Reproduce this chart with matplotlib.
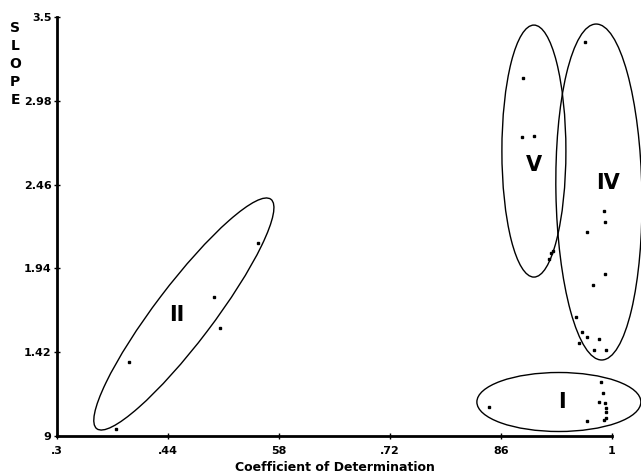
import matplotlib
matplotlib.use("Agg")
import matplotlib.pyplot as plt
from matplotlib.patches import Ellipse
from matplotlib.transforms import ScaledTranslation

# ---- data ----
x_ticks = [0.3, 0.44, 0.58, 0.72, 0.86, 1.0]
x_tick_labels = [".3", ".44", "58", ".72", "86", "1"]
y_ticks = [0.9, 1.42, 1.94, 2.46, 2.98, 3.5]
y_tick_labels = ["9", "1.42", "1.94", "2.46", "2.98", "3.5"]

cluster_II_x = [0.554, 0.498, 0.505, 0.391, 0.374]
cluster_II_y = [2.095, 1.764, 1.568, 1.361, 0.942]

cluster_V_x = [0.888, 0.887, 0.901, 0.923, 0.920, 0.926]
cluster_V_y = [3.119, 2.753, 2.761, 2.033, 1.998, 2.045]

cluster_IV_x = [0.966, 0.990, 0.991, 0.968, 0.991, 0.976, 0.954, 0.962,
                0.969, 0.983, 0.959, 0.977, 0.992]
cluster_IV_y = [3.346, 2.298, 2.229, 2.164, 1.905, 1.837, 1.636, 1.543,
                1.516, 1.500, 1.475, 1.434, 1.434]

cluster_I_x = [0.845, 0.986, 0.989, 0.983, 0.991, 0.992, 0.992, 0.968,
               0.990, 0.992]
cluster_I_y = [1.078, 1.233, 1.165, 1.113, 1.102, 1.072, 1.051, 0.995,
               0.999, 1.010]

cluster_names = ["II", "V", "IV", "I"]
label_x = [0.451, 0.901, 0.995, 0.937]
label_y = [1.650, 2.580, 2.467, 1.108]

# ellipse outlines: centre (data), width/height (inches), angle (deg)
ell_cx = [0.460, 0.9015, 0.9835, 0.933]
ell_cy = [1.657, 2.668, 2.414, 1.111]
ell_w = [2.88, 0.64, 0.86, 1.64]
ell_h = [0.58, 2.52, 3.36, 0.59]
ell_ang = [52.8, 0.0, 1.0, 0.0]

fam = ["Liberation Sans Narrow", "DejaVu Sans"]

fig = plt.figure(figsize=(6.41, 4.76), dpi=100)
ax = fig.add_axes([57 / 641, 40 / 476, 555 / 641, 419 / 476])

for xs, ys in [(cluster_II_x, cluster_II_y), (cluster_V_x, cluster_V_y),
               (cluster_IV_x, cluster_IV_y), (cluster_I_x, cluster_I_y)]:
    ax.plot(xs, ys, linestyle="none", marker="s", markersize=1.8,
            color="black", clip_on=False)

for cx, cy, w, h, a in zip(ell_cx, ell_cy, ell_w, ell_h, ell_ang):
    tr = fig.dpi_scale_trans + ScaledTranslation(cx, cy, ax.transData)
    e = Ellipse((0, 0), w, h, angle=a, transform=tr, fill=False,
                edgecolor="black", linewidth=1.0, clip_on=False)
    ax.add_patch(e)

for name, lx, ly in zip(cluster_names, label_x, label_y):
    ax.text(lx, ly, name, ha="center", va="center", fontsize=15,
            fontweight="bold", family=["DejaVu Sans"])

ax.set_xlim(0.3, 1.0)
ax.set_ylim(0.9, 3.5)
ax.set_xticks(x_ticks)
ax.set_xticklabels(x_tick_labels, family=fam, fontsize=8, fontweight="bold")
ax.set_yticks(y_ticks)
ax.set_yticklabels(y_tick_labels, family=fam, fontsize=8, fontweight="bold")
ax.tick_params(axis="both", direction="inout", length=4, width=1, pad=2)
ax.tick_params(axis="x", pad=5)

for s in ["top", "right"]:
    ax.spines[s].set_visible(False)
ax.spines["left"].set_linewidth(2)
ax.spines["bottom"].set_linewidth(2)

ax.set_xlabel("Coefficient of Determination", family=fam, fontsize=9,
              fontweight="bold", labelpad=4)

for i, ch in enumerate("SLOPE"):
    fig.text(15 / 641, 1 - (28 + i * 18) / 476, ch, ha="center", va="center",
             fontsize=10, fontweight="bold", family=fam)

fig.savefig("out.png", dpi=100)
